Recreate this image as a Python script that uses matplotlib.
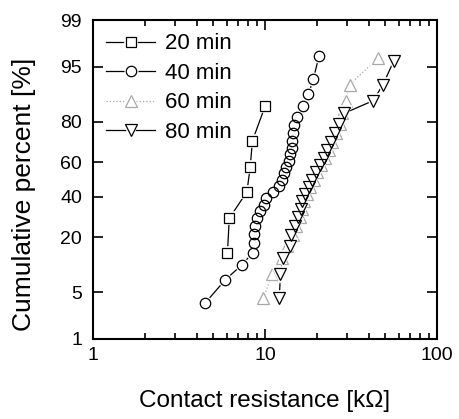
import numpy as np
import math
import matplotlib
matplotlib.use("Agg")
import matplotlib.pyplot as plt
from matplotlib.ticker import FixedLocator, NullLocator, LogLocator, FixedFormatter
from matplotlib.legend_handler import HandlerTuple

plt.rcParams['font.family'] = ['Liberation Sans', 'DejaVu Sans']

# ---- data ----
r20 = [6.05, 6.2, 7.85, 8.2, 8.45, 10.0]
p20 = [14.3, 28.6, 42.9, 57.1, 71.4, 85.7]

r40 = [4.5, 5.85, 7.35, 8.5, 8.6, 8.65, 8.8, 9.0, 9.4, 9.9, 10.2, 11.1, 12.0, 12.6,
       12.9, 13.2, 13.7, 14.0, 14.3, 14.4, 14.5, 14.7, 15.4, 16.6, 17.9, 19.1, 20.6]
p40 = [3.6, 7.1, 10.7, 14.3, 17.9, 21.4, 25.0, 28.6, 32.1, 35.7, 39.3, 42.9, 46.4,
       50.0, 53.6, 57.1, 60.7, 64.3, 67.9, 71.4, 75.0, 78.6, 82.1, 85.7, 89.3, 92.9, 96.4]

r60 = [9.8, 11.0, 12.5, 13.5, 14.5, 15.2, 15.9, 16.4, 16.9, 17.5, 18.3, 19.2, 20.1,
       21.2, 22.3, 23.4, 24.6, 25.9, 27.3, 28.0, 29.5, 31.0, 45.5]
p60 = [4.2, 8.3, 12.5, 16.7, 20.8, 25.0, 29.2, 33.3, 37.5, 41.7, 45.8, 50.0, 54.2,
       58.3, 62.5, 66.7, 70.8, 75.0, 79.2, 83.3, 87.5, 91.7, 96.2]

r80 = [12.1, 12.3, 12.8, 14.0, 14.1, 14.9, 15.6, 16.1, 16.5, 17.1, 18.0, 18.8, 19.7,
       20.9, 21.9, 22.9, 24.2, 25.5, 26.9, 28.8, 42.5, 48.5, 56.0]
p80 = [4.2, 8.3, 12.5, 16.7, 20.8, 25.0, 29.2, 33.3, 37.5, 41.7, 45.8, 50.0, 54.2,
       58.3, 62.5, 66.7, 70.8, 75.0, 79.2, 83.3, 87.5, 91.7, 95.8]

labels = ['20 min', '40 min', '60 min', '80 min']
yticks = [1, 5, 20, 40, 60, 80, 95, 99]
xticks = [1, 10, 100]


# ---- probability (probit) scale ----
_a = [-3.969683028665376e+01, 2.209460984245205e+02, -2.759285104469687e+02,
      1.383577518672690e+02, -3.066479806614716e+01, 2.506628277459239e+00]
_b = [-5.447609879822406e+01, 1.615858368580409e+02, -1.556989798598866e+02,
      6.680131188771972e+01, -1.328068155288572e+01]
_c = [-7.784894002430293e-03, -3.223964580411365e-01, -2.400758277161838e+00,
      -2.549732539343734e+00, 4.374664141464968e+00, 2.938163982698783e+00]
_d = [7.784695709041462e-03, 3.224671290700398e-01, 2.445134137142996e+00,
      3.754408661907416e+00]


def _ppf_scalar(p):
    plow = 0.02425
    phigh = 1 - plow
    if p < plow:
        q = math.sqrt(-2 * math.log(p))
        return (((((_c[0]*q+_c[1])*q+_c[2])*q+_c[3])*q+_c[4])*q+_c[5]) / \
               ((((_d[0]*q+_d[1])*q+_d[2])*q+_d[3])*q+1)
    if p > phigh:
        q = math.sqrt(-2 * math.log(1 - p))
        return -(((((_c[0]*q+_c[1])*q+_c[2])*q+_c[3])*q+_c[4])*q+_c[5]) / \
                ((((_d[0]*q+_d[1])*q+_d[2])*q+_d[3])*q+1)
    q = p - 0.5
    r = q * q
    return (((((_a[0]*r+_a[1])*r+_a[2])*r+_a[3])*r+_a[4])*r+_a[5])*q / \
           (((((_b[0]*r+_b[1])*r+_b[2])*r+_b[3])*r+_b[4])*r+1)


def forward(y):
    y = np.asarray(y, dtype=float)
    p = np.clip(y / 100.0, 1e-9, 1 - 1e-9)
    return np.vectorize(_ppf_scalar, otypes=[float])(p)


def inverse(z):
    z = np.asarray(z, dtype=float)
    return np.vectorize(lambda t: 50.0 * (1 + math.erf(t / math.sqrt(2))), otypes=[float])(z)


fig = plt.figure(figsize=(4.59, 4.19), dpi=100)
ax = fig.add_axes([0.2026, 0.191, 0.7495, 0.761])

ax.set_xscale('log')
ax.set_yscale('function', functions=(forward, inverse))

series = [
    (r20, p20, 's', 6.5, '-', 'black', 3),
    (r40, p40, 'o', 7.5, '-', 'black', 3),
    (r60, p60, '^', 8.5, ':', '#a8a8a8', 2),
    (r80, p80, 'v', 9.0, '-', 'black', 4),
]
handles = []
for (xs, ys, mk, ms, ls, col, z), lab in zip(series, labels):
    ln, = ax.plot(xs, ys, linestyle=ls, color=col, lw=0.9, zorder=z)
    gap, = ax.plot(xs, ys, linestyle='none', marker=mk, ms=ms, mfc='white',
                   mec='white', mew=2.6, zorder=z + 0.1)
    mkr, = ax.plot(xs, ys, linestyle='none', marker=mk, ms=ms, mfc='none',
                   mec=col, mew=0.9, zorder=z + 0.2)
    handles.append((ln, gap, mkr))

ax.set_xlim(1, 100)
ax.set_ylim(1, 99)

ax.yaxis.set_major_locator(FixedLocator(yticks))
ax.yaxis.set_major_formatter(FixedFormatter([str(t) for t in yticks]))
ax.yaxis.set_minor_locator(NullLocator())
ax.xaxis.set_major_locator(FixedLocator(xticks))
ax.xaxis.set_major_formatter(FixedFormatter([str(t) for t in xticks]))
ax.xaxis.set_minor_locator(LogLocator(base=10, subs=np.arange(2, 10)))

ax.tick_params(which='both', direction='in', top=True, right=True, width=1.2,
               labelsize=14)
ax.tick_params(which='major', length=7)
ax.tick_params(axis='x', which='major', pad=6)
ax.tick_params(axis='y', which='major', pad=8)
ax.tick_params(which='minor', length=4)
for s in ax.spines.values():
    s.set_linewidth(1.5)

ax.set_xlabel('Contact resistance [k\u03a9]', fontsize=17.5)
ax.set_ylabel('Cumulative percent [%]', fontsize=19)
ax.xaxis.set_label_coords(0.498, -0.16)
ax.yaxis.set_label_coords(-0.165, 0.455)

ax.legend(handles, labels, loc='upper left', frameon=False, fontsize=16,
          handlelength=2.2, handletextpad=0.45, labelspacing=0.38,
          borderaxespad=0.2, bbox_to_anchor=(0.0, 1.0),
          handler_map={tuple: HandlerTuple(ndivide=1)})

fig.savefig('out.png', dpi=100)
